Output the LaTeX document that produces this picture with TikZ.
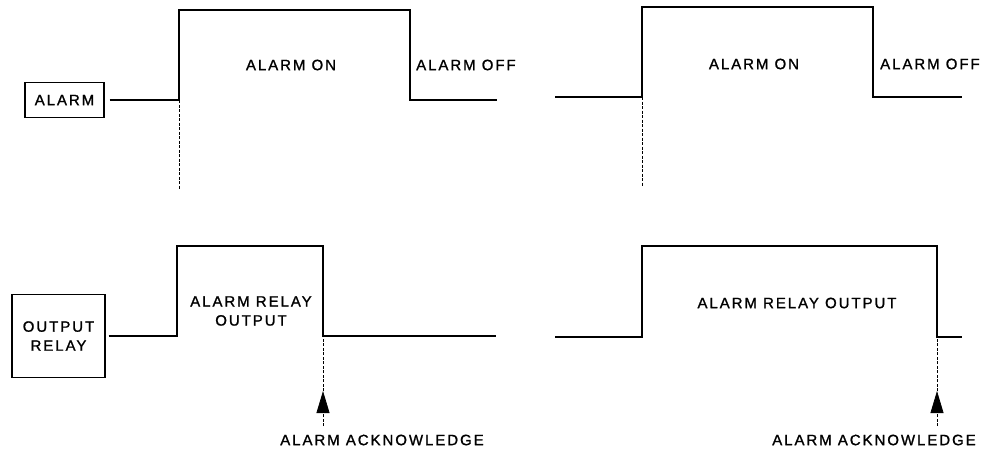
\documentclass[tikz,border=0pt]{standalone}
\usepackage{fontspec}
\setmainfont{Liberation Sans}[LetterSpace=13, FakeBold=1.2]
\usepackage{tikz}
\usetikzlibrary{arrows.meta}

\tikzset{
  wave/.style={line width=1.1pt},
  guide/.style={line width=0.8pt, dash pattern=on 3pt off 1.5pt},
  lbl/.style={font=\fontsize{15}{19}\selectfont, inner sep=0pt, align=center},
  sigbox/.style={draw, line width=1.1pt, font=\fontsize{15}{19}\selectfont, align=center, inner sep=0pt},
  ackarrow/.style={line width=0.8pt, -{Triangle[length=22pt,width=13pt]}}
}

\begin{document}
\begin{tikzpicture}[x=1pt, y=-1pt]
  \useasboundingbox (0,0) rectangle (994,450);

  %% Alarm input, left
  \node[sigbox, minimum width=79pt, minimum height=35pt] (alarm) at (64.5,100) {ALARM};
  \coordinate (a1) at (179,100);
  \coordinate (a2) at (179,10);
  \coordinate (a3) at (410,10);
  \coordinate (a4) at (410,100);
  \coordinate (a5) at (497,100);
  \coordinate (a6) at (179,190);
  \draw[wave] ([xshift=5pt]alarm.east) -- (a1) -- (a2) -- (a3) -- (a4) -- (a5);
  \draw[guide] (a1) -- (a6);
  \node[lbl] (alarmon) at (291,65) {ALARM ON};
  \node[lbl, anchor=west] (alarmoff) at (416,65) {ALARM OFF};

  %% Alarm input, right
  \coordinate (b0) at (555,97);
  \coordinate (b1) at (642,97);
  \coordinate (b2) at (642,7);
  \coordinate (b3) at (873,7);
  \coordinate (b4) at (873,97);
  \coordinate (b5) at (962,97);
  \coordinate (b6) at (642,187);
  \draw[wave] (b0) -- (b1) -- (b2) -- (b3) -- (b4) -- (b5);
  \draw[guide] (b1) -- (b6);
  \node[lbl] (alarmonR) at (754,64) {ALARM ON};
  \node[lbl, anchor=west] (alarmoffR) at (880,64) {ALARM OFF};

  %% Output relay, left
  \node[sigbox, minimum width=93pt, minimum height=83pt] (relay) at (58.5,336) {OUTPUT\\RELAY};
  \coordinate (c1) at (177,336);
  \coordinate (c2) at (177,246);
  \coordinate (c3) at (323,246);
  \coordinate (c4) at (323,336);
  \coordinate (c5) at (496,336);
  \coordinate (c6) at (323,391);
  \coordinate (c7) at (323,426);
  \draw[wave] ([xshift=3pt]relay.east) -- (c1) -- (c2) -- (c3) -- (c4) -- (c5);
  \draw[guide] (c6) -- (c4);
  \draw[ackarrow, guide] (c7) -- (c6);
  \node[lbl] (relayout) at (251,311) {ALARM RELAY\\OUTPUT};
  \node[lbl] (ack) at (382,440) {ALARM ACKNOWLEDGE};

  %% Output relay, right
  \coordinate (d0) at (555,337);
  \coordinate (d1) at (642,337);
  \coordinate (d2) at (642,246);
  \coordinate (d3) at (937,246);
  \coordinate (d4) at (937,337);
  \coordinate (d5) at (962,337);
  \coordinate (d6) at (937,391);
  \coordinate (d7) at (937,426);
  \draw[wave] (d0) -- (d1) -- (d2) -- (d3) -- (d4) -- (d5);
  \draw[guide] (d6) -- (d4);
  \draw[ackarrow, guide] (d7) -- (d6);
  \node[lbl] (relayoutR) at (797,303) {ALARM RELAY OUTPUT};
  \node[lbl] (ackR) at (874,440) {ALARM ACKNOWLEDGE};
\end{tikzpicture}
\end{document}
